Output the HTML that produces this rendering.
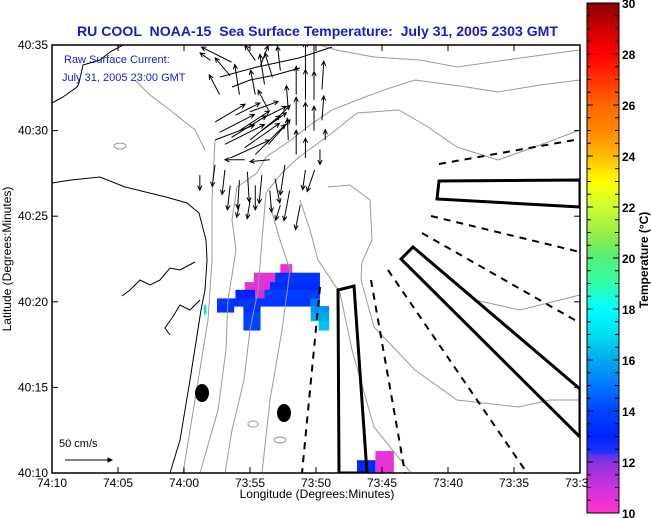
<!DOCTYPE html>
<html><head><meta charset="utf-8"><style>
html,body{margin:0;padding:0;background:#fff;}
svg{display:block;font-family:"Liberation Sans",sans-serif;}
</style></head><body>
<svg id="chart" width="651" height="518" viewBox="0 0 651 518" xmlns="http://www.w3.org/2000/svg">
<defs>
<linearGradient id="cbgrad" x1="0" y1="1" x2="0" y2="0"></linearGradient>
<clipPath id="plotclip"><rect x="52" y="45" width="528" height="428"/></clipPath>
</defs>
<rect width="651" height="518" fill="#fff"/>
<text x="77" y="36" textLength="481" lengthAdjust="spacingAndGlyphs" style="white-space:pre" font-size="14" font-weight="bold" fill="#1a1acc">RU COOL  NOAA-15  Sea Surface Temperature:  July 31, 2005 2303 GMT</text>
<g id="plot" clip-path="url(#plotclip)">
 <g id="sst"></g>
 <g fill="none" stroke="#999" stroke-width="1">
  <polyline points="580,50 520,58 457,67 420,60 374,57 336,50 320,45"/>
  <polyline points="580,80 540,85 498,92 460,86 415,80 390,88 365,97 332,110 310,125 291,140 266,157 257,173 237,187 232,220 236,250 228,300 226,350 218,410 200,473"/>
  <polyline points="580,130 540,145 498,160 457,147 428,127 399,110 357,113 332,133 299,157 282,173 266,193 262,240 258,290 250,330 244,380 232,430 225,473"/>
  <polyline points="328,187 350,185 370,200 372,240 362,262 361,280 374,327 415,370 457,400 519,407 550,400 580,400"/>
  <polyline points="300,200 310,230 318,260 340,293 352,350 374,427 411,473"/>
  <polyline points="215,140 212,200 212,260 208,320 195,400 183,473"/>
  <polyline points="205,150 195,130 170,110 150,95 135,80"/>
  <polyline points="270,205 280,240 290,270 282,330 270,400 262,473"/>
  <polyline points="475,300 520,310 560,300 580,295"/>
  <ellipse cx="253" cy="424" rx="5" ry="3"/><ellipse cx="280" cy="440" rx="6" ry="3"/><ellipse cx="120" cy="146" rx="6" ry="3"/>
 </g>
 <g fill="none" stroke="#000" stroke-width="1">
  <polyline points="52,103 63,97 77,87 79,83 83,65 100,60 110,52 123,45"/>
  <polyline points="220,77 257,67 299,58 332,47"/>
  <polyline points="232,87 250,80 275,75 300,68"/>
  <polyline points="52,183 71,180 100,177 125,187 166,197 187,203 199,213 206,240 207,260 205,290 201,310 190,380 180,440 170,473"/>
  <polyline points="195,262 180,270 170,268 160,280 150,285 140,280 130,290 122,296"/>
  <polyline points="200,300 190,310 180,305 172,318 165,328 170,335"/>
 </g>
 <g id="arrows" stroke="#000" stroke-width="1" fill="none"></g>
 <g fill="none" stroke="#000" stroke-width="2" stroke-dasharray="7,6">
  <line x1="439" y1="164" x2="580" y2="139"/>
  <line x1="431" y1="216" x2="580" y2="252"/>
  <line x1="422" y1="233" x2="580" y2="323"/>
  <line x1="388" y1="270" x2="527" y2="473"/>
  <line x1="371" y1="280" x2="405" y2="473"/>
  <line x1="320" y1="287" x2="302" y2="473"/>
 </g>
 <g fill="none" stroke="#000" stroke-width="3">
  <polygon points="439,181 437,199 580,207 580,180"/>
  <polygon points="413,247 401,259 580,437 580,389"/>
  <polygon points="338,290 354,286 367,473 339,473"/>
 </g>
 <ellipse cx="202" cy="393" rx="7" ry="9" fill="#000"/>
 <ellipse cx="284" cy="413" rx="7" ry="9" fill="#000"/>
</g>
<text x="64" y="63" font-size="11" fill="#1a1acc">Raw Surface Current:</text>
<text x="62" y="81" font-size="11" fill="#1a1acc">July 31, 2005 23:00 GMT</text>
<g>
 <text x="59" y="447" font-size="11" fill="#000">50 cm/s</text>
 <g id="legendArrow" stroke="#000" stroke-width="1"></g>
</g>
<rect x="52" y="45" width="528" height="428" fill="none" stroke="#000" stroke-width="1.5"/>
<g id="axes" font-size="12" fill="#000"></g>
<text x="317" y="498" text-anchor="middle" font-size="12">Longitude (Degrees:Minutes)</text>
<text transform="translate(11,259) rotate(-90)" text-anchor="middle" font-size="12">Latitude (Degrees:Minutes)</text>
<rect x="587" y="3" width="32" height="510" fill="url(#cbgrad)" stroke="#000" stroke-width="1"/>
<g id="cbaxis" font-size="12" font-weight="bold"></g>
<text transform="translate(648,260) rotate(-90)" text-anchor="middle" font-size="12" font-weight="bold">Temperature (°C)</text>
</svg>
<script>
// ---- data ----
const lonTickLabels = ["74:10","74:05","74:00","73:55","73:50","73:45","73:40","73:35","73:30"];
const latTickLabels = ["40:10","40:15","40:20","40:25","40:30","40:35"];
const cbTicks = [10,12,14,16,18,20,22,24,26,28,30];
// current vectors: position (minutes east of 74:10, minutes north of 40:10), u/v cm/s
const arrLon = [18.5,18.5,18.5,19.2,19.2,19.2,19.2,19.85,19.85,19.85,20.45,20.45,17.9,17.9,
 12.35,12.7,12.35,13.1,13.6,14.2,14.6,13.5,15.0,15.4,15.9,16.4,13.9,15.0,15.9,16.9,
 13.6,13.5,15.4,15.4,14.2,16.1,15.8,16.7,16.4,12.0,12.7,17.3,
 13.1,13.5,14.2,14.8,15.4,15.9,16.5,16.9,17.65,18.0,18.8,19.2,12.35,15.0,17.3,19.9,20.3,11.2,14.2,20.7,16.5,14.6];
const arrLat = [22.1,20.3,18.6,23.5,21.8,20.0,18.4,23.5,21.8,20.0,22.4,20.6,21.2,19.45,
 20.5,19.9,19.45,19.2,19.6,20.0,19.0,18.4,19.45,18.6,20.0,19.2,20.9,21.1,20.7,20.6,
 24.0,23.2,24.1,22.1,22.1,22.7,23.8,23.1,21.2,24.1,22.1,23.5,
 17.7,16.8,17.1,17.6,16.8,17.4,16.5,17.2,18.0,16.5,15.65,17.7,18.0,15.9,15.65,17.7,18.9,17.4,15.65,19.45,18.3,18.3];
const arrU = [0,0,0,0,0,0,0,0,0,0,2,2,-2,-1,
 32,37,42,42,37,32,37,42,32,32,26,23,26,30,26,16,
 -32,-16,-11,-5,-5,-5,8,-8,-11,-11,-11,-3,
 -3,-3,-2,2,0,-3,2,5,-5,-6,-5,-3,-3,-3,-5,-8,0,0,-3,0,-21,-21];
const arrV = [30,30,26,30,32,30,21,32,30,26,30,26,26,23,
 19,19,16,21,23,21,26,19,26,32,19,26,13,11,13,16,
 16,19,16,26,32,32,21,26,21,8,21,26,
 -26,-26,-30,-32,-26,-30,-23,-26,-32,-32,-26,-21,-23,-19,-16,-23,-16,-16,-13,11,-2,0];
// SST cells: lon range, lat range (minutes), temperature °C
const cellLon0 = [17.3,15.3,16.9,14.6,16.5,13.9,15.4,16.1,12.5,19.6,12.5,14.5,19.6,14.5,19.6,20.2,23.1,24.5,11.5];
const cellLon1 = [18.2,16.9,20.3,16.5,20.3,15.4,16.1,20.3,19.6,20.3,13.8,15.8,21.0,15.8,21.0,21.0,24.5,25.9,11.7];
const cellLat0 = [11.7,11.15,11.15,10.7,10.7,10.2,10.2,10.2,9.75,9.75,9.4,9.4,9.4,8.35,8.9,8.35,0,0,9.3];
const cellLat1 = [12.2,11.7,11.7,11.15,11.15,10.7,10.7,10.7,10.2,10.2,9.75,9.75,9.75,9.4,9.4,8.9,0.75,1.28,9.8];
const cellTemp = [10.5,10.5,13.5,10.6,13.3,13.0,11.0,13.8,13.6,15,13.5,13.5,15.5,14,16,16.5,13.2,10.5,17];
const cmapT = [10,11,12,12.3,12.35,13,14,15,16,17,18,19,20,21,22,23,24,25,26,27,28,29,30];
const cmapC = ["#ff33cc","#cc33dd","#8833dd","#5533ee","#2233ff","#0022ff","#0044ff","#0077ff","#00aaee","#00ddee","#00ffff","#33ffaa","#55ee77","#99ee44","#ccff33","#ffff00","#ffbb00","#ff8800","#ff6600","#ff3300","#ff0000","#cc0000","#880000"];

// ---- scales ----
const X = m => 52 + m * 13.2;
const Y = m => 473 - m * 17.12;
const CB = t => 513 - (t - 10) * 25.5;
const PXPERCM = 0.94;
const NS = "http://www.w3.org/2000/svg";
function mk(tag, attrs, parent){ const e=document.createElementNS(NS,tag); for(const k in attrs) e.setAttribute(k,attrs[k]); parent.appendChild(e); return e; }
function hex(h){return [parseInt(h.substr(1,2),16),parseInt(h.substr(3,2),16),parseInt(h.substr(5,2),16)];}
function tcolor(t){
  if(t<=cmapT[0]) return cmapC[0];
  for(let i=1;i<cmapT.length;i++){ if(t<=cmapT[i]){ const f=(t-cmapT[i-1])/(cmapT[i]-cmapT[i-1]); const a=hex(cmapC[i-1]), b=hex(cmapC[i]); return "rgb("+a.map((v,j)=>Math.round(v+(b[j]-v)*f)).join(",")+")"; } }
  return cmapC[cmapC.length-1];
}
const grad=document.getElementById("cbgrad");
cmapT.forEach((t,i)=>{ mk("stop",{offset:((t-10)/20).toFixed(4),"stop-color":cmapC[i]},grad); });
const sst=document.getElementById("sst");
cellTemp.forEach((t,i)=>{
  const r=mk("rect",{x:X(cellLon0[i]),y:Y(cellLat1[i]),width:X(cellLon1[i])-X(cellLon0[i]),height:Y(cellLat0[i])-Y(cellLat1[i])+0.5,fill:tcolor(t)},sst);
  
  
});
function arrow(g,x1,y1,x2,y2){
  const p=mk("path",{},g);
  const a=Math.atan2(y2-y1,x2-x1), h=5, s=0.45;
  p.setAttribute("d",`M${x1},${y1}L${x2},${y2}M${x2-h*Math.cos(a-s)},${y2-h*Math.sin(a-s)}L${x2},${y2}L${x2-h*Math.cos(a+s)},${y2-h*Math.sin(a+s)}`);
  return p;
}
const ag=document.getElementById("arrows");
arrU.forEach((u,i)=>{
  const x1=X(arrLon[i]), y1=Y(arrLat[i]);
  const p=arrow(ag,x1,y1,x1+u*PXPERCM,y1-arrV[i]*PXPERCM);
  
  
});
const la=arrow(document.getElementById("legendArrow"),65,460,65+50*PXPERCM,460);


const ax=document.getElementById("axes");
lonTickLabels.forEach((s,i)=>{
  const x=X(i*5);
  mk("line",{x1:x,y1:473,x2:x,y2:467,stroke:"#000"},ax);
  mk("line",{x1:x,y1:45,x2:x,y2:51,stroke:"#000"},ax);
  const t=mk("text",{x:x,y:487,"text-anchor":"middle"},ax); t.textContent=s;
  
  
});
latTickLabels.forEach((s,i)=>{
  const y=Y(i*5);
  mk("line",{x1:52,y1:y,x2:58,y2:y,stroke:"#000"},ax);
  mk("line",{x1:580,y1:y,x2:574,y2:y,stroke:"#000"},ax);
  const t=mk("text",{x:48,y:y+4,"text-anchor":"end"},ax); t.textContent=s;
  
  
});
const cba=document.getElementById("cbaxis");
for(let v=10; v<=30; v+=0.5){
  const y=CB(v), major=(v%2===0);
  mk("line",{x1:619,y1:y,x2:major?613:615,y2:y,stroke:"#000"},cba);
  mk("line",{x1:587,y1:y,x2:major?593:591,y2:y,stroke:"#000"},cba);
}
cbTicks.forEach(v=>{
  const t=mk("text",{x:622,y:CB(v)+5},cba); t.textContent=v;
  
  
});
</script>
</body></html>
